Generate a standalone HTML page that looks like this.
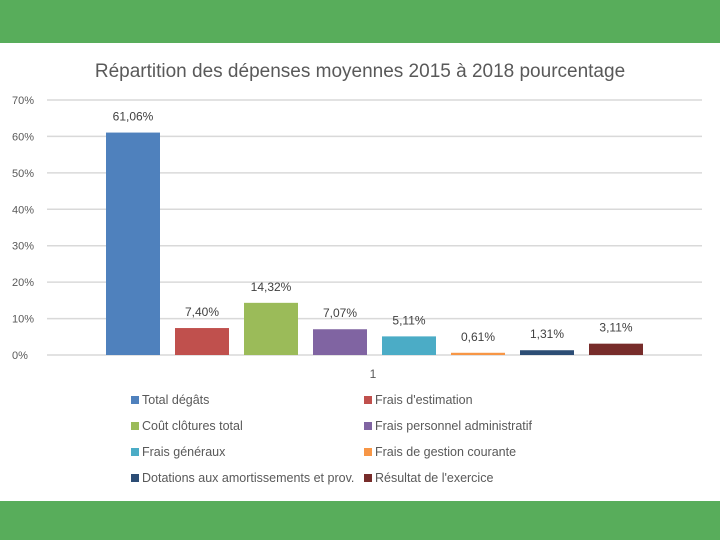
<!DOCTYPE html>
<html><head><meta charset="utf-8"><style>
body{margin:0;width:720px;height:540px;background:#fff;overflow:hidden;font-family:"Liberation Sans",sans-serif;position:relative}
.g{position:absolute;left:0;width:720px;background:#58ad5b}
</style></head><body>
<div class="g" style="top:0;height:43px"></div>
<div class="g" style="top:501px;height:39px"></div>
<svg id="c" width="720" height="540" style="position:absolute;left:0;top:0"></svg>
<script>
const categories=["Total dégâts","Frais d'estimation","Coût clôtures total","Frais personnel administratif","Frais généraux","Frais de gestion courante","Dotations aux amortissements et prov.","Résultat de l'exercice"];
const values=[61.06,7.40,14.32,7.07,5.11,0.61,1.31,3.11];
const labels=["61,06%","7,40%","14,32%","7,07%","5,11%","0,61%","1,31%","3,11%"];
const colors=["#4f81bd","#c0504d","#9bbb59","#8064a2","#4bacc6","#f79646","#2c4d75","#772c2a"];
const ticks=[0,10,20,30,40,50,60,70];
const svg=document.getElementById('c');const NS='http://www.w3.org/2000/svg';
function mk(t,a,txt){const e=document.createElementNS(NS,t);for(const k in a)e.setAttribute(k,a[k]);if(txt!=null)e.textContent=txt;svg.appendChild(e);return e;}
const y=v=>355-v*255/70;
const x=i=>106+i*69;
let e=mk('text',{x:360,y:77,'text-anchor':'middle','font-size':19,fill:'#595959'},'Répartition des dépenses moyennes 2015 à 2018 pourcentage');


ticks.forEach(t=>{
 e=mk('line',{x1:47,x2:702,y1:y(t),y2:y(t),stroke:'#d9d9d9','stroke-width':1.5});
 
 
 e=mk('text',{x:12,y:y(t)+4,'font-size':11,fill:'#595959'},t+'%');
 
 
});
values.forEach((v,i)=>{
 e=mk('rect',{x:x(i),y:y(v),width:54,height:y(0)-y(v),fill:colors[i]});
 
 
 e=mk('text',{x:x(i)+27,y:y(v)-12,'text-anchor':'middle','font-size':12,fill:'#404040'},labels[i]);
 
 
});
e=mk('text',{x:373,y:378,'text-anchor':'middle','font-size':12,fill:'#595959'},'1');


categories.forEach((c,i)=>{
 const lx=131+(i%2)*233, ly=404+Math.floor(i/2)*26;
 e=mk('rect',{x:lx,y:ly-8,width:8,height:8,fill:colors[i]});
 
 
 e=mk('text',{x:lx+11,y:ly,'font-size':12.5,fill:'#595959'},c);
 
 
});
</script>
</body></html>
